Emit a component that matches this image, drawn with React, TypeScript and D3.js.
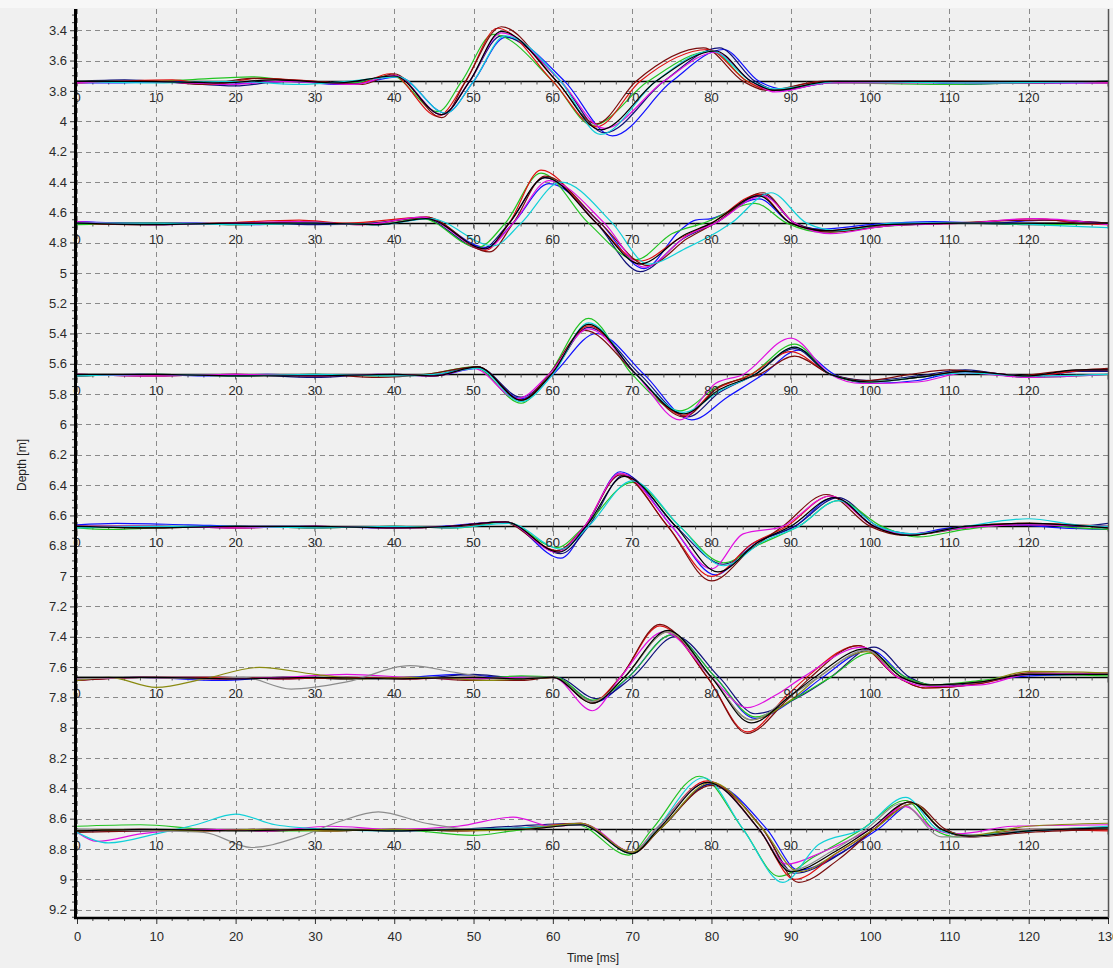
import React, { useEffect, useRef } from "react";
import * as d3 from "d3";

// depth of the reference line of each trace group [m]
const groupDepths = [3.737, 4.672, 5.67, 6.672, 7.668, 8.67];

// traces: [time ms, depth offset m], one list per group
const group1 = [
  [[0,0.01],[5,0.01],[12,0],[18,0.02],[22,0.01],[27,0],[33,0.02],[36,0.01],[40.5,-0.03],[46.5,0.21],[50,0],[54,-0.29],[61.5,0],[67.5,0.36],[75,0],[81.5,-0.21],[86,0],[89,0.05],[95,0.01],[105,0],[112,0.02],[118,0.01],[130,0.01]],
  [[0,0],[6,-0.01],[13,0.01],[20,0.03],[26,0],[34,0.01],[40,-0.04],[46,0.22],[49.5,0],[53.5,-0.3],[61,0],[66.5,0.34],[74,0],[81,-0.22],[85.5,0],[88.5,0.06],[96,0],[110,0],[120,0.01],[130,0]],
  [[0,0],[8,0],[14,-0.01],[22,-0.03],[28,0],[35,0.01],[39.5,-0.04],[45.5,0.2],[48.5,0],[52.5,-0.31],[60,0],[65,0.29],[72,0],[80,-0.2],[84.5,0],[87.5,0.06],[95,0.01],[110,0.02],[120,0.01],[130,0]],
  [[0,0.01],[5,0],[12,-0.01],[17,0.02],[23,-0.02],[30,0],[35,0.02],[39.5,-0.05],[45.5,0.23],[49,0],[53,-0.35],[60,0],[65.5,0.3],[71,0],[79.5,-0.21],[84.5,0],[87.5,0.06],[94,0],[112,0],[130,0.01]],
  [[0,0],[10,0],[16,0.02],[22,-0.02],[30,0],[36,0.02],[40,-0.05],[46,0.24],[49,0],[53.5,-0.36],[60.5,0],[65.5,0.28],[70.5,0],[79,-0.22],[84,0],[87,0.06],[94,0],[115,0.01],[130,0]],
  [[0,0.01],[6,0],[14,0.01],[19,0.02],[26,0],[35,0.02],[40,-0.04],[46,0.22],[49.5,0],[53.5,-0.32],[61,0],[66.5,0.31],[74,0],[80.5,-0.19],[85,0],[88,0.07],[95,0.01],[110,0.01],[130,0.01]],
  [[0,0],[10,0.01],[20,0],[28,0.02],[34,0],[40.5,-0.03],[46.5,0.21],[50,0],[54,-0.3],[61,0],[66,0.35],[73,0],[80,-0.2],[85,0],[88,0.05],[96,0],[112,0.01],[130,0]],
  [[0,0],[8,0],[18,0.01],[25,-0.01],[33,0.01],[40,-0.035],[46,0.22],[49.5,0],[53.5,-0.33],[60.5,0],[66,0.32],[73,0],[80.5,-0.2],[85,0],[88,0.06],[95,0],[130,0]],
];

const group2 = [
  [[0,-0.01],[8,0],[15,0],[22,0.01],[30,0],[38,0.01],[44,-0.03],[51.5,0.16],[55,0],[59.5,-0.26],[66,0],[71.5,0.3],[76,0.05],[78,-0.02],[80,-0.03],[86,-0.16],[90,0],[94,0.04],[100,0.01],[108,-0.01],[115,0],[122,-0.02],[130,0]],
  [[0,0],[10,0.01],[20,0],[30,0.01],[37,0],[43.5,-0.035],[51,0.17],[54.5,0],[59,-0.3],[65.5,0],[71,0.32],[76.5,0.1],[80.5,0],[86.5,-0.19],[90.5,0],[95,0.05],[102,0.01],[112,0],[120,0.01],[130,0]],
  [[0,0.01],[10,0],[20,0.01],[30,0],[38,0.01],[43.5,-0.03],[50.5,0.16],[54,0],[58.5,-0.33],[64.5,0],[70.5,0.24],[75,0.07],[79,0],[85.5,-0.13],[89.5,0],[94,0.06],[102,0.02],[112,0],[122,0.01],[130,0]],
  [[0,0],[8,0.01],[18,0],[28,-0.02],[34,0],[44,-0.04],[51.5,0.18],[54.5,0],[58.5,-0.35],[65.5,0],[71,0.25],[76,0.1],[80,0],[86,-0.19],[90,0],[94.5,0.05],[102,0.01],[112,0],[121,-0.03],[126,0],[130,0.01]],
  [[0,0],[10,0],[20,0.01],[28,-0.01],[36,0.01],[44,-0.04],[52,0.19],[55,0],[59,-0.31],[66,0],[72,0.28],[77,0.1],[80.5,0],[86.5,-0.2],[90.5,0],[95,0.06],[102,0.02],[110,0],[122,-0.02],[130,0]],
  [[0,-0.01],[10,0.01],[20,0],[28,-0.01],[36,0.01],[43.5,-0.04],[51.5,0.17],[55,0],[59.5,-0.28],[66.5,0],[71.5,0.29],[77,0.08],[80.5,0],[86.5,-0.18],[90.5,0],[95,0.07],[102,0.02],[112,0],[121,-0.03],[130,0.01]],
  [[0,0],[10,0],[20,0.01],[30,0],[38,0.01],[44.5,-0.03],[52.5,0.15],[56,0],[61,-0.27],[67.5,0],[72,0.27],[77,0.16],[81,0.05],[82.5,0],[87.5,-0.2],[92,0],[96,0.05],[103,0],[115,0],[125,0.02],[130,0.03]],
  [[0,0],[10,0.01],[20,0],[30,0],[38,0.01],[44,-0.03],[51.5,0.17],[54.5,0],[59,-0.3],[65.5,0],[71,0.27],[76.5,0.08],[80,0],[86,-0.18],[90,0],[94.5,0.05],[102,0.01],[112,0],[130,0]],
];

const group3 = [
  [[0,0.01],[8,0],[16,0.01],[24,0],[32,0.01],[40,0],[45,0.01],[50.5,-0.04],[56,0.16],[60,0],[65.5,-0.27],[71.5,0],[77.5,0.3],[82,0.15],[86.5,0],[91,-0.16],[95.5,0],[100,0.06],[106,0.04],[112,-0.02],[120,0.01],[126,-0.02],[130,-0.03]],
  [[0,0],[10,0.01],[20,0],[30,0.02],[38,0],[44,0.01],[50.5,-0.05],[56,0.15],[59.8,0],[64.5,-0.31],[71,0],[77,0.28],[81,0.12],[85.5,0],[90.5,-0.17],[95,0],[100,0.04],[106,0.01],[112,-0.03],[120,0.02],[126,-0.02],[130,-0.02]],
  [[0,0.01],[10,0],[20,0.01],[30,0],[38,0.01],[44,0],[50,-0.05],[56,0.19],[59.5,0],[64.5,-0.37],[70,0],[76,0.24],[80.5,0.09],[85,0],[90.5,-0.2],[95,0],[99.5,0.05],[106,0.02],[112,-0.02],[120,0.02],[130,0]],
  [[0,0],[10,0.01],[20,0],[30,0.01],[40,0],[45,0.01],[50.5,-0.05],[56,0.17],[59.8,0],[64.5,-0.32],[70.5,0],[76.5,0.27],[80.5,0.1],[85,0],[90,-0.15],[95,0],[100,0.05],[106,0.02],[112,-0.02],[120,0.01],[128,-0.03],[130,-0.03]],
  [[0,0.01],[10,0],[20,0.01],[30,0],[38,0.02],[44,0],[50.5,-0.05],[56,0.17],[59.5,0],[64,-0.29],[70.5,0],[76.5,0.28],[81,0.08],[86,0],[90.5,-0.12],[95,0],[99.5,0.04],[105,0],[110,-0.03],[118,0.01],[124,-0.02],[130,-0.04]],
  [[0,0],[10,0.01],[20,0],[30,0.01],[38,0],[45,0.01],[50,-0.04],[55.5,0.16],[59.5,0],[64.5,-0.3],[70.5,0],[76,0.3],[80.5,0.06],[84,0],[90,-0.24],[95,0],[99,0.06],[106,0.05],[112,-0.01],[120,0.02],[130,0]],
  [[0,0.01],[10,0],[20,0.01],[30,0],[40,0.01],[45,0],[50.5,-0.04],[56,0.18],[60,0],[64.5,-0.34],[70.5,0],[76.5,0.25],[81,0.11],[85.5,0],[90.5,-0.18],[95,0],[100,0.05],[106,0.02],[112,-0.01],[120,0.01],[130,0]],
  [[0,0],[10,0],[20,0.01],[30,0.01],[40,0],[45,0.01],[50.5,-0.05],[56,0.17],[59.8,0],[64.5,-0.33],[70.5,0],[76.5,0.26],[81,0.1],[85.5,0],[90.5,-0.18],[95,0],[100,0.05],[106,0.02],[112,-0.02],[120,0.01],[126,-0.03],[130,-0.03]],
];

const group4 = [
  [[0,-0.01],[5,-0.02],[14,-0.01],[22,0],[30,0],[38,0.01],[46,0],[54,-0.03],[61,0.21],[64.2,0],[68.5,-0.36],[75,0],[80.5,0.32],[85,0.12],[90.5,0],[95.5,-0.19],[100.5,0],[105,0.05],[110,0.01],[118,-0.01],[124,0.01],[130,0.02]],
  [[0,0],[10,0],[20,0.01],[30,0],[40,0.01],[47,0],[54,-0.03],[61,0.18],[64.5,0],[69,-0.34],[75.5,0],[81.5,0.25],[86,0.1],[90.5,0],[96,-0.19],[101,0],[105.5,0.05],[112,0],[120,-0.01],[126,0],[130,-0.02]],
  [[0,0.01],[4,0.02],[10,0.01],[20,0],[30,0.01],[40,0],[48,0.01],[54,-0.03],[60.5,0.14],[64,0],[70,-0.29],[76,0],[81.5,0.24],[86,0.12],[91,0],[96,-0.17],[101.5,0],[106,0.07],[112,0.02],[120,-0.02],[126,0.01],[130,0.02]],
  [[0,0],[10,0],[20,0.01],[30,0],[40,0.01],[47,0],[54,-0.03],[60.5,0.16],[64,0],[68.5,-0.35],[74.5,0],[80,0.33],[85,0.12],[89.5,0],[95,-0.2],[100.5,0],[105,0.06],[112,0],[120,-0.02],[130,0]],
  [[0,0],[10,0.01],[20,0],[30,0.01],[40,0],[47,0.01],[53.5,-0.03],[60.5,0.16],[64,0],[68.5,-0.34],[74.5,0],[80,0.36],[85,0.15],[89,0],[94.5,-0.21],[100,0],[104.5,0.06],[112,0.01],[120,-0.02],[130,0.01]],
  [[0,0],[10,0],[20,0.01],[30,0],[40,0.01],[47,0],[54,-0.03],[60.5,0.17],[64,0],[68.5,-0.35],[75,0],[80,0.28],[84,0.05],[89,0],[95,-0.2],[100.5,0],[105,0.05],[112,0.01],[120,-0.01],[130,0]],
  [[0,0.01],[10,0],[20,0],[30,0.01],[40,0],[47,0.01],[54.5,-0.02],[61,0.15],[64.5,0],[70,-0.3],[76,0],[81.5,0.26],[86.5,0.1],[91,0],[96,-0.17],[101,0],[105.5,0.05],[112,0],[120,-0.05],[126,-0.01],[130,0]],
  [[0,0],[10,0.01],[20,0],[30,0],[40,0.01],[47,0],[54,-0.03],[60.8,0.17],[64.2,0],[69,-0.33],[75.5,0],[80.8,0.3],[86,0.1],[90,0],[95.5,-0.19],[100.5,0],[105,0.06],[112,0],[120,-0.02],[130,0.01]],
];

const group5 = [
  [[0,0.01],[8,0],[18,0.02],[26,0],[34,0.01],[42,0],[48,-0.02],[54,0],[60,0],[65.5,0.16],[69.5,0],[75,-0.28],[80.5,0],[85.5,0.27],[90.5,0.14],[94,0],[100,-0.18],[104.5,0],[108,0.05],[114,0.03],[120,-0.01],[130,-0.02]],
  [[0,0.02],[8,0],[18,0],[26,0.01],[34,0],[42,0.01],[50,-0.02],[55,0],[60.5,0],[65.5,0.14],[70,0],[75.5,-0.27],[81,0],[85.5,0.24],[91,0.13],[95,0],[100.5,-0.2],[105,0],[108.5,0.06],[114,0.03],[120,-0.02],[130,-0.02]],
  [[0,0.01],[8,0],[18,0.01],[26,0],[34,0.01],[42,0],[50,0.01],[56,-0.01],[60.5,0],[65,0.15],[69.5,0],[75,-0.28],[80.5,0],[85.5,0.26],[90.5,0.14],[95,0],[100,-0.16],[104.5,0],[108,0.05],[114,0.02],[120,-0.02],[130,-0.01]],
  [[0,0.02],[8,0],[18,0],[26,0.01],[34,0],[42,0.01],[50,0],[56,0.01],[60,0],[65,0.16],[68.5,0],[73.5,-0.34],[79.5,0],[84.5,0.36],[89.5,0.12],[92,0],[98.5,-0.21],[103.5,0],[107,0.07],[114,0.04],[120,-0.02],[130,-0.02]],
  [[0,0.02],[8,0],[18,0.01],[26,0],[34,0.01],[42,0],[50,0.02],[56,0.02],[60,0],[65,0.17],[68.5,0],[73.5,-0.35],[79.5,0],[84.5,0.37],[89.5,0.15],[92.5,0],[98.5,-0.21],[103.5,0],[107,0.07],[114,0.04],[120,-0.03],[130,-0.02]],
  [[0,0.01],[8,0],[18,0.01],[26,0],[34,-0.02],[42,0],[50,0.01],[56,0],[60,0],[65,0.22],[68.5,0],[74,-0.3],[80,0],[84.5,0.2],[88,0.12],[91.5,0],[99,-0.2],[103.5,0],[107.5,0.06],[114,0.05],[120,-0.02],[130,-0.03]],
  [[0,0.02],[4,0],[10,0.066],[16,0.01],[23,-0.066],[30,-0.02],[36,0.01],[44,0],[52,0.02],[60,0],[65,0.16],[69,0],[74.5,-0.3],[80,0],[85,0.28],[90,0.15],[93.5,0],[99.5,-0.17],[104,0],[107.5,0.05],[114,0.03],[120,-0.04],[130,-0.03]],
  [[0,0.01],[8,0],[16,0.01],[21,0],[27,0.077],[34,0.03],[42,-0.077],[48,-0.03],[54,0.01],[60,0],[65,0.16],[69,0],[74.5,-0.3],[80,0],[85,0.28],[90,0.12],[93.5,0],[99.5,-0.18],[104,0],[107.5,0.05],[114,0.03],[120,-0.02],[130,-0.02]],
  [[0,0],[10,0],[20,0.01],[30,0],[40,0.01],[50,0],[56,0.01],[60,0],[65,0.17],[69,0],[74.5,-0.31],[80,0],[85,0.3],[90,0.12],[93,0],[99.5,-0.19],[104,0],[107.5,0.05],[114,0.03],[120,-0.02],[130,-0.02]],
];

const group6 = [
  [[0,0.01],[8,0],[16,0.01],[24,0],[32,0.01],[40,0],[48,0.01],[56,-0.01],[63.5,-0.03],[70,0.15],[73.5,0],[80,-0.3],[87,0],[91,0.27],[96.5,0.15],[101,0],[105.5,-0.17],[109,0],[113,0.04],[120,0.01],[130,-0.01]],
  [[0,0.01],[8,0.01],[16,0],[24,0.01],[32,0],[40,0.01],[48,0],[55,-0.02],[63.5,-0.04],[70,0.15],[73.5,0],[80,-0.3],[86.5,0],[90.5,0.29],[96,0.17],[100.5,0],[105,-0.18],[109,0],[112.5,0.05],[120,0.01],[130,-0.01]],
  [[0,-0.02],[8,-0.03],[16,0],[24,0.01],[32,0.01],[40,0],[50,0.04],[55,0.01],[63,-0.03],[69.5,0.17],[72.5,0],[78.5,-0.35],[84,0],[88.5,0.31],[93,0.18],[99,0],[104.5,-0.19],[108,0],[111,0.05],[118,0.01],[130,-0.01]],
  [[0,0.01],[8,0],[16,0.01],[24,0],[32,0.01],[40,0],[48,0.01],[56,-0.01],[63.5,-0.04],[70,0.15],[73,0],[79.5,-0.32],[86,0],[90.5,0.33],[96,0.15],[100.5,0],[105,-0.18],[109,0],[112.5,0.05],[120,0],[130,0.01]],
  [[0,0.02],[8,0.01],[16,0],[24,0.01],[32,0],[40,0.01],[48,0],[56,0],[63.5,-0.03],[70,0.16],[73.5,0],[80,-0.29],[86.5,0],[91,0.35],[96,0.2],[100.5,0],[105.5,-0.17],[109.5,0],[113,0.05],[120,0.02],[130,0]],
  [[0,0.02],[2.5,0.08],[8,0.03],[16,0],[24,0.01],[32,-0.02],[40,0],[48,-0.02],[55,-0.08],[60,-0.02],[64,-0.03],[70,0.15],[73,0],[79.5,-0.31],[86,0],[89.5,0.23],[94,0.15],[100,0],[104.5,-0.15],[108,0],[111,0.03],[118,-0.02],[130,-0.03]],
  [[0,0.02],[4,0.09],[10,0.03],[15,-0.03],[20,-0.1],[25,-0.03],[32,0],[40,0.01],[48,0],[56,-0.01],[63.5,-0.03],[70,0.16],[73,0],[79,-0.34],[84,0],[89,0.35],[93.5,0.1],[99,0],[104.5,-0.21],[108.5,0],[112,0.04],[120,0.01],[130,-0.02]],
  [[0,0],[10,0.01],[16,0.02],[22,0.12],[28,0.05],[33,-0.05],[38,-0.115],[44,-0.04],[50,0],[56,0],[63.5,-0.03],[70,0.15],[73,0],[79.5,-0.31],[86,0],[90,0.27],[95,0.15],[99.5,0],[104,-0.17],[109,0.05],[113,0.05],[120,0],[130,-0.01]],
  [[0,0.01],[8,0],[16,0.01],[24,0],[32,0.01],[40,0],[48,0.01],[56,0],[63.5,-0.04],[70,0.15],[73.5,0],[80,-0.31],[86.5,0],[91,0.28],[96,0.15],[100.5,0],[105.5,-0.17],[109,0],[112.5,0.04],[120,-0.02],[130,-0.04]],
  [[0,0.01],[10,0],[20,0.01],[30,0],[40,0.01],[50,0],[56,0],[63.5,-0.03],[70,0.16],[73.3,0],[79.5,-0.31],[86,0],[90,0.28],[95.5,0.15],[100,0],[105,-0.18],[109,0],[112.5,0.045],[120,0.01],[130,-0.01]],
];

const groups = [group1, group2, group3, group4, group5, group6];

const palette: Record<string, string> = {
  blue: "#1010ff", navy: "#10107a", green: "#22c422", red: "#e01010", maroon: "#7a0c0c",
  magenta: "#e010e0", cyan: "#10d0d8", black: "#000000", olive: "#8a8a10", gray: "#8c8c8c",
};
const mainColors = ["blue", "navy", "green", "red", "maroon", "magenta", "cyan", "black"];
const groupColors = [
  mainColors, mainColors, mainColors, mainColors,
  ["blue", "navy", "green", "red", "maroon", "magenta", "olive", "gray", "black"],
  ["blue", "navy", "green", "red", "maroon", "magenta", "cyan", "gray", "olive", "black"],
];

const depthTicks = d3.range(3.4, 9.21, 0.2).map((d) => +d.toFixed(1));
const timeTicks = d3.range(0, 131, 10);
const traceLabels = d3.range(0, 121, 10);

const W = 1113;
const H = 968;

export default function App() {
  const ref = useRef<SVGSVGElement>(null);

  useEffect(() => {
    const svg = d3.select(ref.current);
    svg.selectAll("*").remove();

    const x = d3.scaleLinear().domain([0, 130]).range([77, 1108]);
    const y = d3.scaleLinear().domain([3.26, 9.255]).range([9, 918]);
    const font = "'Liberation Sans', Arial, sans-serif";

    svg.append("rect").attr("width", W).attr("height", H).attr("fill", "#f0f0f0");
    svg.append("rect").attr("width", W).attr("height", 8).attr("fill", "#f7f7f7");

    svg.append("defs").append("clipPath").attr("id", "plot")
      .append("rect").attr("x", x(0)).attr("y", y(3.26)).attr("width", x(130) - x(0)).attr("height", y(9.255) - y(3.26));

    // grid
    const grid = svg.append("g").attr("stroke", "#8a8a8a").attr("stroke-width", 1).attr("stroke-dasharray", "5,4");
    grid.selectAll("line.v").data(timeTicks).enter().append("line")
      .attr("x1", (d) => Math.round(x(d)) + 0.5).attr("x2", (d) => Math.round(x(d)) + 0.5)
      .attr("y1", y(3.26)).attr("y2", y(9.255));
    grid.selectAll("line.h").data(depthTicks).enter().append("line")
      .attr("y1", (d) => Math.round(y(d)) + 0.5).attr("y2", (d) => Math.round(y(d)) + 0.5)
      .attr("x1", x(0)).attr("x2", x(130));

    const plot = svg.append("g").attr("clip-path", "url(#plot)");

    // reference lines with their time ticks and labels
    groupDepths.forEach((base) => {
      const yb = Math.round(y(base)) + 0.5;
      plot.append("line").attr("x1", x(0)).attr("x2", x(130)).attr("y1", yb).attr("y2", yb)
        .attr("stroke", "#000").attr("stroke-width", 1.3);
      plot.selectAll(null).data(d3.range(0, 131, 2)).enter().append("line")
        .attr("x1", (d) => x(d)).attr("x2", (d) => x(d))
        .attr("y1", yb).attr("y2", (d) => yb + (d % 10 === 0 ? 5 : 3))
        .attr("stroke", "#555").attr("stroke-width", 1);
      svg.selectAll(null).data(traceLabels).enter().append("text")
        .attr("x", (d) => x(d)).attr("y", yb + 20)
        .attr("text-anchor", "middle").attr("font-family", font).attr("font-size", 13)
        .attr("fill", "#2a2a2a").text((d) => d);
    });

    // traces
    const line = d3.line<number[]>()
      .x((d) => x(d[0]))
      .curve(d3.curveMonotoneX);
    groups.forEach((traces, gi) => {
      const base = groupDepths[gi];
      traces.forEach((pts, ti) => {
        plot.append("path")
          .attr("d", line.y((d) => y(base + d[1]))(pts as number[][]))
          .attr("fill", "none")
          .attr("stroke", palette[groupColors[gi][ti]])
          .attr("stroke-width", 1.2);
      });
    });

    // left axis
    const yAxis = d3.axisLeft(y).tickValues(depthTicks).tickSize(5).tickPadding(3)
      .tickFormat((d) => String(d));
    const ya = svg.append("g").attr("transform", "translate(75,0)").call(yAxis);
    ya.select(".domain").remove();
    ya.selectAll("text").attr("font-family", font).attr("font-size", 13).attr("fill", "#2a2a2a");
    ya.selectAll("line").attr("stroke", "#333");
    svg.selectAll(null).data(d3.range(3.3, 9.26, 0.05).map((d) => +d.toFixed(2)).filter((d) => Math.round(d * 100) % 20 !== 0))
      .enter().append("line")
      .attr("x1", 72).attr("x2", 75).attr("y1", (d) => y(d)).attr("y2", (d) => y(d))
      .attr("stroke", "#444");
    svg.append("line").attr("x1", 75.5).attr("x2", 75.5).attr("y1", 9).attr("y2", 919)
      .attr("stroke", "#000").attr("stroke-width", 3);

    // bottom axis
    const xAxis = d3.axisBottom(x).tickValues(timeTicks).tickSize(6).tickPadding(8);
    const xa = svg.append("g").attr("transform", "translate(0,918)").call(xAxis);
    xa.select(".domain").remove();
    xa.selectAll("text").attr("font-family", font).attr("font-size", 13).attr("fill", "#2a2a2a");
    xa.selectAll("line").attr("stroke", "#333");
    svg.selectAll(null).data(d3.range(2, 130, 2).filter((d) => d % 10 !== 0)).enter().append("line")
      .attr("x1", (d) => x(d)).attr("x2", (d) => x(d)).attr("y1", 918).attr("y2", 921)
      .attr("stroke", "#444");
    svg.append("line").attr("x1", 74).attr("x2", 1109).attr("y1", 918).attr("y2", 918)
      .attr("stroke", "#000").attr("stroke-width", 2.5);
    svg.append("line").attr("x1", 1108.5).attr("x2", 1108.5).attr("y1", 9).attr("y2", 918)
      .attr("stroke", "#555").attr("stroke-width", 1.5);

    // titles
    svg.append("text").attr("x", 593).attr("y", 962).attr("text-anchor", "middle")
      .attr("font-family", font).attr("font-size", 12).attr("fill", "#222").text("Time [ms]");
    svg.append("text").attr("transform", "translate(26,465) rotate(-90)").attr("text-anchor", "middle")
      .attr("font-family", font).attr("font-size", 12).attr("fill", "#222").text("Depth [m]");
  }, []);

  return (
    <svg ref={ref} width={W} height={H} style={{ position: "absolute", left: 0, top: 0, display: "block" }} />
  );
}
